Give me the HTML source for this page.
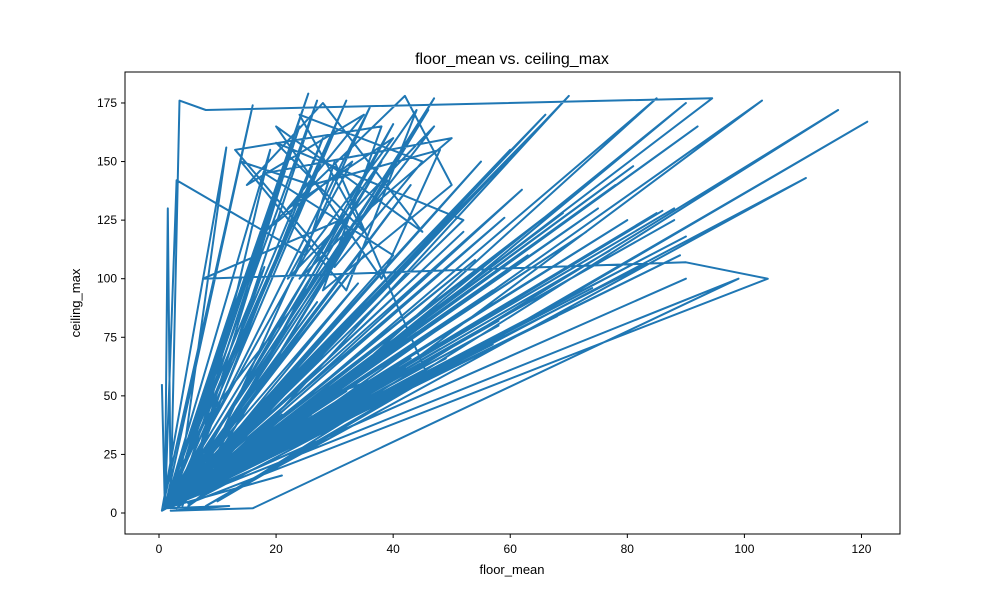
<!DOCTYPE html>
<html><head><meta charset="utf-8"><style>
body{margin:0;background:#fff}
svg text{font-family:"Liberation Sans","DejaVu Sans",sans-serif;fill:#000}
</style></head><body>
<svg id="chart" width="1000" height="600" xmlns="http://www.w3.org/2000/svg">
<rect width="1000" height="600" fill="#fff"/>
<text x="512" y="64" font-size="16" text-anchor="middle">floor_mean vs. ceiling_max</text>
<g id="plot"></g>
<g id="xt"></g>
<g id="yt"></g>
<rect x="125" y="72" width="775" height="462" fill="none" stroke="#000" stroke-width="1"/>
<text x="512" y="574" font-size="13" text-anchor="middle">floor_mean</text>
<text transform="translate(80,303) rotate(-90)" font-size="13" text-anchor="middle">ceiling_max</text>
</svg>
<script>
const xTicks=[0,20,40,60,80,100,120];
const yTicks=[0,25,50,75,100,125,150,175];
const floorMean=[
0.5,1,1.5,2,3.5,8,94.5,12,70,3,
85,20,90,5,103,30,116,10,121,8,
110.5,5,104,90,7.5,31,1,25.5,2,27,
4,22,1,16,0.5,11.5,3,47,6,36,
2,32,1,19,5,60,2,81,1,46,
7,40,3,56,2,75,0.5,66,4,28,
1.5,88,3,52,2,43,1,63,5,38,
2,78,1,57,3,24,2,48,0.5,85,
4,71,1,35,2,92,3,59,1,27,
2,67,4,44,1,83,2,54,3,30,
1,90,0.5,73,2,41,5,62,1,34,
3,86,2,50,1,18,4,77,2,58,
1,39,3,69,2,26,1,88,5,45,
2,14,1,80,3,55,2,33,1,64,
4,89,2,21,1,74,3,37,2,52,
20,35,24,45,30,13,38,28,50,42,
18,33,22,47,8,1,99,16,2,12,
1,90,2,42,29,1,68,3,23,2,
57,1,49,4,12,1,32,2,61,1,
46,3,26,2,17,1,3,25,1,21,
1,25,2,30,1,35,3,40,2,22,
1,45,3,28,2,50,1,33,3,55,
2,18,1,38,3,43,2,60,1,27,
3,48,2,36,1,53,3,31,2,65,
1,24,3,41,2,58,1,20,3,46,
30,25,40,22,35,15,28,45,20,38,
48,26,14,32,44,24,36,50,18,40,2];
const ceilingMax=[
55,2,130,5,176,172,177,20,178,2,
177,30,175,3,176,40,172,5,167,3,
143,4,100,107,100,125,2,179,4,176,
3,150,2,174,1,156,4,177,8,173,
3,176,2,155,6,155,3,148,2,172,
12,166,4,100,2,130,1,170,6,160,
3,130,5,120,3,140,2,110,8,150,
3,140,2,95,4,165,3,88,1,128,
6,136,2,110,3,165,4,126,2,90,
4,170,6,77,2,106,3,108,4,163,
2,118,1,120,3,60,8,138,2,98,
4,129,3,92,2,105,6,112,3,80,
2,142,4,128,3,48,2,125,8,70,
3,100,2,125,4,150,3,89,2,96,
6,110,3,42,2,96,4,93,3,125,
158,120,170,150,105,155,165,95,140,178,
120,150,100,165,40,2,100,2,1,3,
2,100,3,62,50,2,84,4,36,3,
72,2,66,6,16,2,52,3,80,2,
62,4,42,3,28,2,142,110,2,16,
2,35,3,42,2,45,4,52,3,38,
2,60,4,46,3,65,2,50,4,72,
3,30,2,58,4,66,3,78,2,40,
4,70,3,55,2,75,4,52,3,85,
2,44,4,62,3,82,2,36,4,58,
150,110,160,130,170,140,175,120,165,100,
155,140,150,95,172,100,130,160,145,110,3];
const X=v=>159+v*5.854, Y=v=>513-v*2.343;
const svgNS="http://www.w3.org/2000/svg";
const plot=document.getElementById('plot');
let d='';
const n=Math.min(floorMean.length,ceilingMax.length);
for(let i=0;i<n;i++){d+=(i?'L':'M')+X(floorMean[i]).toFixed(1)+' '+Y(ceilingMax[i]).toFixed(1);}
const p=document.createElementNS(svgNS,'path');


p.setAttribute('d',d);p.setAttribute('fill','none');p.setAttribute('stroke','#1f77b4');p.setAttribute('stroke-width','2');p.setAttribute('stroke-linejoin','round');
plot.appendChild(p);
const xt=document.getElementById('xt');
xTicks.forEach(t=>{
 const l=document.createElementNS(svgNS,'line');
 
 
 l.setAttribute('x1',X(t));l.setAttribute('x2',X(t));l.setAttribute('y1',534);l.setAttribute('y2',538);l.setAttribute('stroke','#000');xt.appendChild(l);
 const s=document.createElementNS(svgNS,'text');
 
 
 s.setAttribute('x',X(t));s.setAttribute('y',553);s.setAttribute('font-size','12');s.setAttribute('text-anchor','middle');s.textContent=t;xt.appendChild(s);
});
const yt=document.getElementById('yt');
yTicks.forEach(t=>{
 const l=document.createElementNS(svgNS,'line');
 
 
 l.setAttribute('x1',121);l.setAttribute('x2',125);l.setAttribute('y1',Y(t));l.setAttribute('y2',Y(t));l.setAttribute('stroke','#000');yt.appendChild(l);
 const s=document.createElementNS(svgNS,'text');
 
 
 s.setAttribute('x',117);s.setAttribute('y',Y(t)+4);s.setAttribute('font-size','12');s.setAttribute('text-anchor','end');s.textContent=t;yt.appendChild(s);
});
</script>
</body></html>
